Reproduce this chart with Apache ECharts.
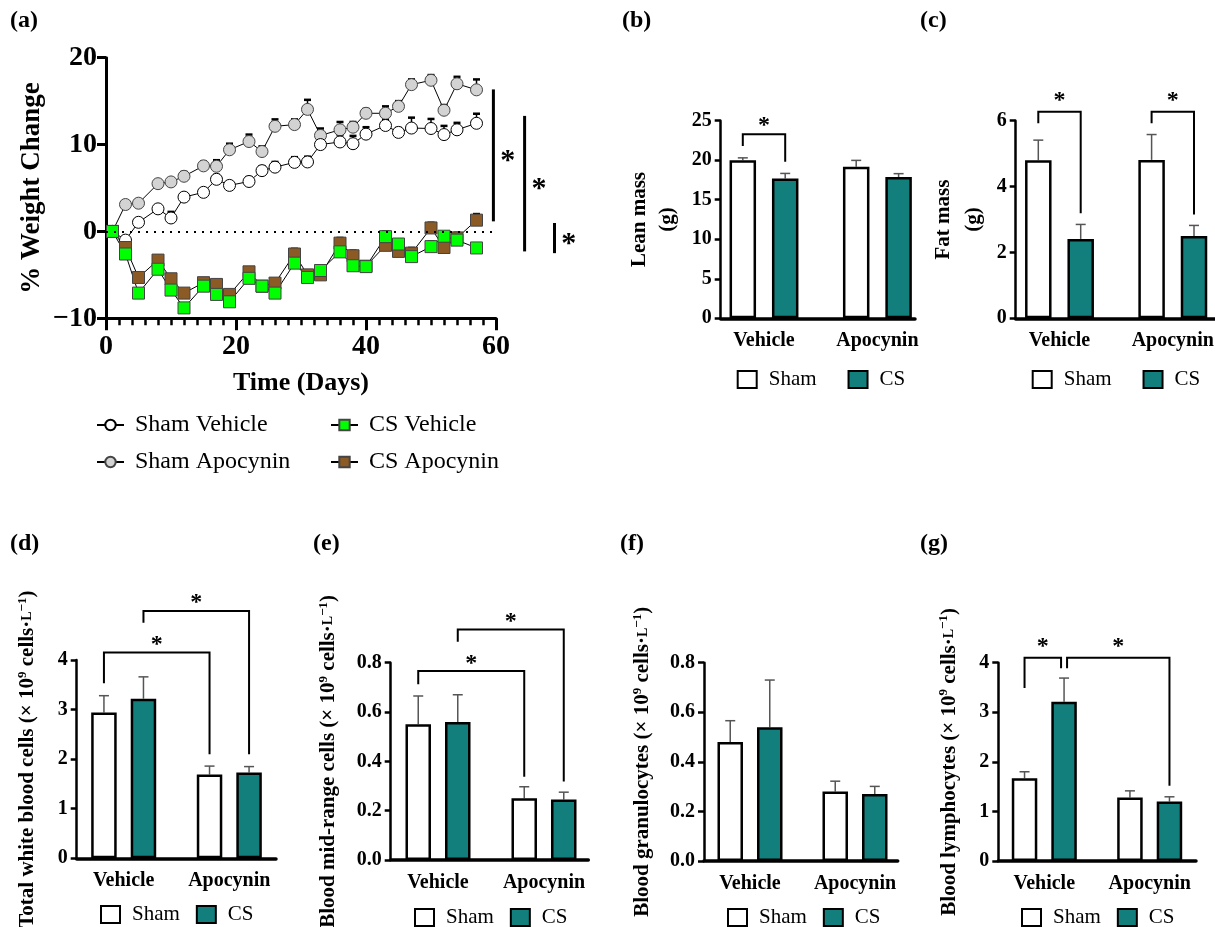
<!DOCTYPE html>
<html><head><meta charset="utf-8">
<script src="https://cdn.jsdelivr.net/npm/echarts@6/dist/echarts.min.js"></script>
<style>html,body{margin:0;padding:0;background:#fff}#main{width:1215px;height:927px}</style>
</head><body><div id="main"></div>
<script>
// ---------- Panel (a) data ----------
const days = [1,3,5,8,10,12,15,17,19,22,24,26,29,31,33,36,38,40,43,45,47,50,52,54,57];
const shamVehicle    = [0,-1.0,1.05,2.6,1.55,3.95,4.5,6.0,5.3,5.75,7.0,7.4,7.95,8.0,10.0,10.3,10.1,11.2,12.2,11.4,11.9,11.85,11.15,11.7,12.45];
const shamVehicleErr = [0,0.3,0.4,0.4,0.7,0.4,0.3,0.5,0.4,0.5,0.5,0.6,0.6,0.6,0.5,0.8,0.9,0.8,0.6,0.5,1.2,1.1,1.0,0.8,1.1];
const shamApocynin    = [0,3.1,3.25,5.5,5.7,6.35,7.55,7.5,9.4,10.35,9.2,12.1,12.3,14.05,11.05,11.7,12.0,13.6,13.6,14.4,16.9,17.4,13.95,17.0,16.3];
const shamApocyninErr = [0,0.3,0.4,0.4,0.4,0.5,0.5,0.7,0.7,0.8,0.6,0.8,0.6,1.1,0.8,0.9,0.6,0.5,0.8,0.6,0.6,0.6,0.6,0.8,1.2];
const csVehicle    = [0,-2.6,-7.1,-4.35,-6.75,-8.8,-6.3,-7.25,-8.1,-5.4,-6.3,-7.1,-3.65,-5.3,-4.5,-2.35,-3.95,-4.05,-0.6,-1.45,-2.9,-1.75,-0.55,-1.0,-1.9];
const csVehicleErr = [0,0.3,0.4,0.3,0.4,0.3,0.3,0.3,0.3,0.3,0.3,0.3,0.4,0.3,0.3,0.5,0.6,0.3,0.6,0.5,0.5,0.6,0.3,0.5,0.3];
const csApocynin    = [0,-1.85,-5.3,-3.3,-5.45,-7.1,-5.9,-6.1,-7.25,-4.65,-6.3,-5.95,-2.6,-5.0,-5.0,-1.35,-2.8,-4.0,-1.6,-2.3,-2.5,0.4,-1.85,-0.75,1.3];
const csApocyninErr = [0,0.4,0.3,0.5,0.4,0.3,0.3,0.4,0.4,0.4,0.3,0.4,0.6,0.5,0.4,0.6,0.6,0.4,0.6,0.4,0.6,0.6,0.5,0.6,0.7];
// significance bars of panel (a), in data units
const sigX      = [59.6, 64.4, 69.0];
const sigTop    = [16.35, 13.3, 0.97];
const sigBottom = [1.16, -2.3, -2.5];
const sigStarX  = [61.8, 66.6, 71.2];
const sigStarY  = [8.55, 5.3, -0.96];

// ---------- Bar panels data ----------
const categories = ['Vehicle', 'Apocynin'];
const leanSham = [20.0, 19.18], leanShamErr = [0.3, 0.8];
const leanCS   = [17.7, 17.88], leanCSErr   = [0.63, 0.42];
const fatSham  = [4.80, 4.81],  fatShamErr  = [0.61, 0.77];
const fatCS    = [2.41, 2.50],  fatCSErr    = [0.44, 0.32];
const wbcSham  = [2.94, 1.69],  wbcShamErr  = [0.34, 0.17];
const wbcCS    = [3.22, 1.73],  wbcCSErr    = [0.44, 0.12];
const midSham  = [0.55, 0.25],  midShamErr  = [0.115, 0.047];
const midCS    = [0.56, 0.245], midCSErr    = [0.11, 0.03];
const granSham = [0.48, 0.28],  granShamErr = [0.086, 0.042];
const granCS   = [0.54, 0.27],  granCSErr   = [0.19, 0.031];
const lymSham  = [1.67, 1.28],  lymShamErr  = [0.13, 0.135];
const lymCS    = [3.21, 1.20],  lymCSErr    = [0.48, 0.095];
// brackets: from/to = [category, group(0 Sham,1 CS)], top, leg bottoms, star height
const leanBrackets = [{from:[0,0],to:[0,1],top:23.3,y1:21.8,y2:19.8,star:24.8}];
const fatBrackets  = [{from:[0,0],to:[0,1],top:6.27,y1:5.92,y2:3.19,star:6.72},
                      {from:[1,0],to:[1,1],top:6.27,y1:5.92,y2:3.15,star:6.72}];
const wbcBrackets  = [{from:[0,0],to:[1,0],top:4.15,y1:3.53,y2:2.1,star:4.38},
                      {from:[0,1],to:[1,1],top:4.99,y1:4.75,y2:2.1,star:5.23}];
const midBrackets  = [{from:[0,0],to:[1,0],top:0.766,y1:0.713,y2:0.338,star:0.81},
                      {from:[0,1],to:[1,1],top:0.935,y1:0.885,y2:0.318,star:0.984}];
const granBrackets = [];
const lymBrackets  = [{from:[0,0],to:[0,1],top:4.1,y1:3.49,y2:3.89,star:4.41,dx2:-3},
                      {from:[0,1],to:[1,1],top:4.1,y1:3.89,y2:1.52,star:4.41,dx1:3}];

// ---------- styling ----------
const FONT = '"Liberation Serif","Times New Roman",serif';
const TEAL = '#137f7c';
const option = {animation:false, backgroundColor:'#fff', grid:[], xAxis:[], yAxis:[], series:[], legend:[], graphic:[]};

// ---------- Panel (a) ----------
option.grid.push({left:106, top:57.7, width:390, height:260.6, containLabel:false, outerBoundsMode:'none'});
option.xAxis.push({gridIndex:0, type:'value', min:0, max:60, interval:20,
  axisLine:{show:true, onZero:false, lineStyle:{color:'#000', width:3}},
  axisTick:{show:true, length:12, lineStyle:{color:'#000', width:3}},
  minorTick:{show:true, splitNumber:10, length:7, lineStyle:{color:'#000', width:2.5}},
  axisLabel:{color:'#000', fontFamily:FONT, fontWeight:'bold', fontSize:28, margin:14},
  splitLine:{show:false}, minorSplitLine:{show:false},
  name:'Time (Days)', nameLocation:'middle', nameGap:52,
  nameTextStyle:{color:'#000', fontFamily:FONT, fontWeight:'bold', fontSize:26}});
option.yAxis.push({gridIndex:0, type:'value', min:-10, max:20, interval:10,
  axisLine:{show:true, onZero:false, lineStyle:{color:'#000', width:3}},
  axisTick:{show:true, length:9, lineStyle:{color:'#000', width:3}},
  axisLabel:{color:'#000', fontFamily:FONT, fontWeight:'bold', fontSize:28, margin:9,
    formatter:v => v < 0 ? '\u2212' + Math.abs(v) : String(v)},
  splitLine:{show:false},
  name:'% Weight Change', nameLocation:'middle', nameRotate:90, nameGap:60,
  nameTextStyle:{color:'#000', fontFamily:FONT, fontWeight:'bold', fontSize:27}});

function errA(vals, errs) {
  return {type:'custom', xAxisIndex:0, yAxisIndex:0, z:1, silent:true, clip:false,
    data: days.map((d,i)=>[d, vals[i], vals[i]+errs[i]]),
    renderItem(params, api) {
      if (api.value(2) - api.value(1) <= 0) return null;
      const b = api.coord([api.value(0), api.value(1)]);
      const t = api.coord([api.value(0), api.value(2)]);
      return {type:'group', children:[
        {type:'line', shape:{x1:b[0],y1:b[1],x2:t[0],y2:t[1]}, style:{stroke:'#000', lineWidth:1.5}},
        {type:'line', shape:{x1:t[0]-3.5,y1:t[1],x2:t[0]+3.5,y2:t[1]}, style:{stroke:'#000', lineWidth:2.5}}]};
    }};
}
function lineA(name, vals, symbol, size, fill, border, extra) {
  return Object.assign({type:'line', name, xAxisIndex:0, yAxisIndex:0, z:2,
    data: days.map((d,i)=>[d, vals[i]]), symbol, symbolSize:size, showAllSymbol:true,
    lineStyle:{color:'#000', width:1}, itemStyle:{color:fill, borderColor:border, borderWidth:1, opacity:1},
    emphasis:{disabled:true}}, extra || {});
}
option.series.push(errA(shamApocynin, shamApocyninErr), errA(shamVehicle, shamVehicleErr),
                   errA(csApocynin, csApocyninErr), errA(csVehicle, csVehicleErr));
option.series.push(lineA('Sham Apocynin', shamApocynin, 'circle', 12, '#d3d3d3', '#444', {
  markLine:{silent:true, symbol:'none', label:{show:false}, lineStyle:{type:[2,6], color:'#000', width:2},
    data:[{yAxis:0}]}}));
option.series.push(lineA('Sham Vehicle', shamVehicle, 'circle', 12, '#fff', '#000'));
option.series.push(lineA('CS Apocynin', csApocynin, 'rect', 12, '#8c5a24', '#444'));
option.series.push(lineA('CS Vehicle', csVehicle, 'rect', 12, '#00ff00', '#444'));
option.series.push({type:'custom', xAxisIndex:0, yAxisIndex:0, z:3, silent:true, clip:false,
  data: sigX.map((x,i)=>[x, sigTop[i], sigBottom[i], sigStarX[i], sigStarY[i]]),
  renderItem(params, api) {
    const t = api.coord([api.value(0), api.value(1)]);
    const b = api.coord([api.value(0), api.value(2)]);
    const s = api.coord([api.value(3), api.value(4)]);
    return {type:'group', children:[
      {type:'line', shape:{x1:t[0],y1:t[1],x2:b[0],y2:b[1]}, style:{stroke:'#000', lineWidth:3}},
      {type:'text', x:s[0], y:s[1]+4, style:{text:'*', fill:'#000', font:'bold 30px ' + FONT,
        align:'center', verticalAlign:'middle', textAlign:'center', textVerticalAlign:'middle'}}]};
  }});
const legA = {orient:'vertical', itemWidth:27, itemHeight:13, itemGap:13, selectedMode:false,
  textStyle:{color:'#000', fontFamily:FONT, fontSize:24, lineHeight:24, padding:[0,0,0,6]}};
option.legend.push(Object.assign({}, legA, {left:91, top:408, data:['Sham Vehicle','Sham Apocynin']}));
option.legend.push(Object.assign({}, legA, {left:325, top:408, data:['CS Vehicle','CS Apocynin']}));

// ---------- Bar panels ----------
function addBarPanel(p) {
  const o = option;
  const gA = o.grid.length;
  const s = p.centers[1] - p.centers[0];
  o.grid.push({left:p.axisX, top:p.yTop, width:p.axisEnd - p.axisX, height:p.y0 - p.yTop, containLabel:false, outerBoundsMode:'none'});
  o.grid.push({left:p.centers[0] - s/2, top:p.yTop, width:2*s, height:p.y0 - p.yTop, containLabel:false, outerBoundsMode:'none'});
  const xA = o.xAxis.length, yA = o.yAxis.length;
  o.xAxis.push({gridIndex:gA, type:'value', min:0, max:1, axisLine:{show:true, onZero:false, lineStyle:{color:'#000', width:3.5}},
    axisTick:{show:false}, axisLabel:{show:false}, splitLine:{show:false}});
  o.xAxis.push({gridIndex:gA+1, type:'category', data:categories, axisLine:{show:false}, axisTick:{show:false},
    axisLabel:{color:'#000', fontFamily:FONT, fontWeight:'bold', fontSize:20, margin:13, interval:0, hideOverlap:false},
    splitLine:{show:false}});
  o.yAxis.push({gridIndex:gA, type:'value', min:0, max:p.max, interval:p.interval,
    axisLine:{show:true, onZero:false, lineStyle:{color:'#000', width:2.5}},
    axisTick:{show:true, length:6, lineStyle:{color:'#000', width:2.5}},
    axisLabel:{color:'#000', fontFamily:FONT, fontWeight:'bold', fontSize:20, margin:9,
      formatter: v => v.toFixed(p.dec)},
    splitLine:{show:false},
    name:p.name, nameLocation:'middle', nameRotate:90, nameGap:p.nameGap,
    nameTextStyle:Object.assign({color:'#000', fontFamily:FONT, fontWeight:'bold', fontSize:p.nameSize, lineHeight:p.nameLH}, p.rich ? {rich:p.rich} : {})});
  o.yAxis.push({gridIndex:gA+1, type:'value', min:0, max:p.max, show:false});
  const off = p.bw * (1 + p.gap) / 2;
  const groups = [[p.sham, p.shamErr, '#fff', 'Sham', -off], [p.cs, p.csErr, TEAL, 'CS', off]];
  groups.forEach(([vals, errs, color, name, dx]) => {
    o.series.push({type:'bar', name, xAxisIndex:xA+1, yAxisIndex:yA+1, data:vals, barWidth:p.bw, barGap:(p.gap*100)+'%',
      z:2, itemStyle:{color, borderColor:'#000', borderWidth:2.5}, emphasis:{disabled:true}});
    o.series.push({type:'custom', xAxisIndex:xA+1, yAxisIndex:yA+1, z:1, silent:true, clip:false,
      data: vals.map((v,i)=>[i, v, v + errs[i]]),
      renderItem(params, api) {
        const b = api.coord([api.value(0), api.value(1)]);
        const t = api.coord([api.value(0), api.value(2)]);
        const x = b[0] + dx;
        return {type:'group', children:[
          {type:'line', shape:{x1:x,y1:b[1],x2:x,y2:t[1]}, style:{stroke:'#555', lineWidth:1.5}},
          {type:'line', shape:{x1:x-5,y1:t[1],x2:x+5,y2:t[1]}, style:{stroke:'#555', lineWidth:1.5}}]};
      }});
  });
  if (p.brackets.length) {
    o.series.push({type:'custom', xAxisIndex:xA+1, yAxisIndex:yA+1, z:3, silent:true, clip:false,
      data: p.brackets.map((b,i)=>[i, 0]),
      renderItem(params, api) {
        const br = p.brackets[params.dataIndex];
        const sx = g => g === 0 ? -off : off;
        const xa = api.coord([br.from[0], br.top])[0] + sx(br.from[1]) + (br.dx1 || 0);
        const xb = api.coord([br.to[0], br.top])[0] + sx(br.to[1]) + (br.dx2 || 0);
        const yt = api.coord([0, br.top])[1];
        const y1 = api.coord([0, br.y1])[1];
        const y2 = api.coord([0, br.y2])[1];
        const ys = api.coord([0, br.star])[1];
        return {type:'group', children:[
          {type:'polyline', shape:{points:[[xa,y1],[xa,yt],[xb,yt],[xb,y2]]}, style:{stroke:'#000', lineWidth:2, fill:null}},
          {type:'text', x:(xa+xb)/2, y:ys+4, style:{text:'*', fill:'#000', font:'bold 24px ' + FONT,
            align:'center', verticalAlign:'middle', textAlign:'center', textVerticalAlign:'middle'}}]};
      }});
  }
  o.legend.push({left:p.legLeft, top:p.legTop, itemWidth:19, itemHeight:17, itemGap:p.legGap, icon:'rect', selectedMode:false,
    data:['Sham','CS'], itemStyle:{borderColor:'#000', borderWidth:2},
    textStyle:{color:'#000', fontFamily:FONT, fontSize:21, padding:[0,0,0,7]}});
}

const supRich = {
  sup:{fontSize:13, lineHeight:12, verticalAlign:'top', fontWeight:'bold', fontFamily:FONT, color:'#000'},
  sc:{fontSize:14, fontWeight:'bold', fontFamily:FONT, color:'#000'}
};
function cellsName(prefix) { return prefix + ' (\u00d7 10{sup|9} cells\u00b7{sc|L}{sup|\u22121})'; }

addBarPanel({axisX:720.7, axisEnd:915, yTop:120.7, y0:318.3, max:25, interval:5, dec:0,
  centers:[764, 877.4], bw:26.5, gap:0.6, name:'Lean mass\n(g)', nameGap:39, nameSize:21, nameLH:28,
  sham:leanSham, shamErr:leanShamErr, cs:leanCS, csErr:leanCSErr, brackets:leanBrackets,
  legLeft:731.7, legTop:364, legGap:31});
addBarPanel({axisX:1015.7, axisEnd:1216, yTop:120.7, y0:318.3, max:6, interval:2, dec:0,
  centers:[1059.5, 1172.8], bw:26.5, gap:0.6, name:'Fat mass\n(g)', nameGap:27, nameSize:21, nameLH:30,
  sham:fatSham, shamErr:fatShamErr, cs:fatCS, csErr:fatCSErr, brackets:fatBrackets,
  legLeft:1026.7, legTop:364, legGap:31});
addBarPanel({axisX:76.7, axisEnd:276, yTop:660, y0:858.3, max:4, interval:1, dec:0,
  centers:[123.7, 229.3], bw:25.5, gap:0.55, name:cellsName('Total white blood cells'), nameGap:37, nameSize:21, nameLH:24, rich:supRich,
  sham:wbcSham, shamErr:wbcShamErr, cs:wbcCS, csErr:wbcCSErr, brackets:wbcBrackets,
  legLeft:95, legTop:899, legGap:16});
addBarPanel({axisX:390.7, axisEnd:588.3, yTop:662.7, y0:860, max:0.8, interval:0.2, dec:1,
  centers:[438, 544], bw:25.5, gap:0.55, name:cellsName('Blood mid-range cells'), nameGap:50, nameSize:21, nameLH:24, rich:supRich,
  sham:midSham, shamErr:midShamErr, cs:midCS, csErr:midCSErr, brackets:midBrackets,
  legLeft:409, legTop:902, legGap:16});
addBarPanel({axisX:704, axisEnd:897.7, yTop:662.7, y0:861, max:0.8, interval:0.2, dec:1,
  centers:[750, 855], bw:25.5, gap:0.55, name:cellsName('Blood granulocytes'), nameGap:49, nameSize:21, nameLH:24, rich:supRich,
  sham:granSham, shamErr:granShamErr, cs:granCS, csErr:granCSErr, brackets:granBrackets,
  legLeft:722, legTop:902, legGap:16});
addBarPanel({axisX:998.3, axisEnd:1196, yTop:662.7, y0:861, max:4, interval:1, dec:0,
  centers:[1044.3, 1149.7], bw:25.5, gap:0.55, name:cellsName('Blood lymphocytes'), nameGap:37, nameSize:21, nameLH:24, rich:supRich,
  sham:lymSham, shamErr:lymShamErr, cs:lymCS, csErr:lymCSErr, brackets:lymBrackets,
  legLeft:1016, legTop:902, legGap:16});

// ---------- panel letters ----------
[['(a)',10,9],['(b)',622,9],['(c)',920,9],['(d)',10,532],['(e)',313,532],['(f)',620,532],['(g)',920,532]].forEach(([t,x,y]) => {
  option.graphic.push({type:'text', left:x, top:y, style:{text:t, fill:'#000', font:'bold 24px ' + FONT}});
});

const chart = echarts.init(document.getElementById('main'), null, {renderer:'canvas'});
chart.setOption(option);
</script></body></html>
